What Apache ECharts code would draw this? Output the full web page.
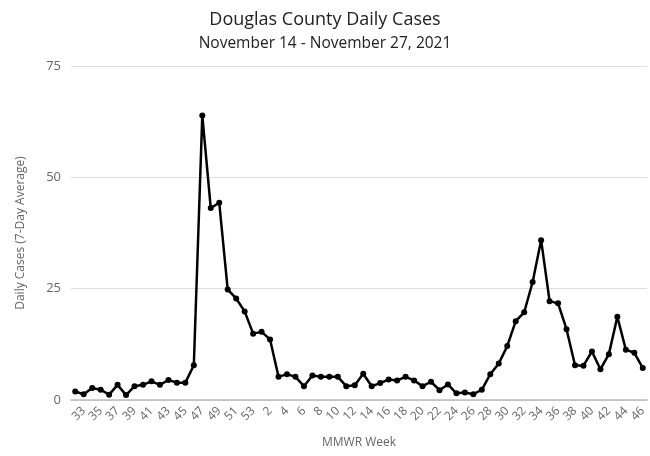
<!DOCTYPE html>
<html>
<head>
<meta charset="utf-8">
<script src="https://cdn.jsdelivr.net/npm/echarts@6/dist/echarts.min.js"></script>
<style>
html,body{margin:0;padding:0;background:#fff;}
#chart{width:650px;height:456px;}
</style>
</head>
<body>
<div id="chart"></div>
<script>
var weeks = [32,33,34,35,36,37,38,39,40,41,42,43,44,45,46,47,48,49,50,51,52,53,
  1,2,3,4,5,6,7,8,9,10,11,12,13,14,15,16,17,18,19,20,21,22,23,24,25,26,27,28,29,30,
  31,32,33,34,35,36,37,38,39,40,41,42,43,44,45,46];
var dailyCases = [1.9,1.3,2.7,2.3,1.2,3.4,1.1,3.1,3.4,4.2,3.4,4.5,3.9,3.9,7.8,63.9,43.1,44.3,24.8,22.8,19.9,14.9,
  15.3,13.6,5.2,5.8,5.2,3.1,5.5,5.2,5.2,5.2,3.1,3.3,5.9,3.1,3.8,4.6,4.4,5.2,4.4,3.1,4.1,2.2,3.5,1.5,1.7,1.3,2.3,5.8,8.2,
  12.1,17.7,19.7,26.5,35.9,22.2,21.7,15.9,7.8,7.7,10.9,6.9,10.3,18.7,11.3,10.6,7.2];
var yTicks = [0,25,50,75];
var titleText = 'Douglas County Daily Cases';
var subtitleText = 'November 14 - November 27, 2021';

var chart = echarts.init(document.getElementById('chart'));
chart.setOption({
  animation:false,
  backgroundColor:'#ffffff',
  title:{
    text:titleText,
    subtext:subtitleText,
    left:'center',
    top:6,
    itemGap:7,
    textStyle:{fontFamily:'Open Sans',fontSize:18,fontWeight:'normal',color:'#222'},
    subtextStyle:{fontFamily:'Open Sans',fontSize:15.5,color:'#222'}
  },
  grid:{left:71,right:3,top:66,bottom:56},
  xAxis:{
    type:'category',
    data:weeks.map(String),
    boundaryGap:true,
    name:'MMWR Week',
    nameLocation:'middle',
    nameGap:37,
    nameTextStyle:{fontFamily:'Open Sans',fontSize:12,color:'#666'},
    axisLine:{lineStyle:{color:'#bbb',width:1.5}},
    axisTick:{show:false},
    axisLabel:{
      interval:function(i){return i%2===1;},
      rotate:45,
      hideOverlap:false,
      showMinLabel:true,
      showMaxLabel:true,
      fontFamily:'Open Sans',fontSize:12,color:'#666',margin:9
    }
  },
  yAxis:{
    type:'value',
    min:0,max:75,interval:25,
    name:'Daily Cases (7-Day Average)',
    nameLocation:'middle',
    nameGap:44,
    nameTextStyle:{fontFamily:'Open Sans',fontSize:12,color:'#666'},
    axisLine:{show:false},
    axisTick:{show:false},
    axisLabel:{fontFamily:'Open Sans',fontSize:13,color:'#666',margin:10},
    splitLine:{lineStyle:{color:'#ddd',width:1}}
  },
  series:[{
    type:'line',
    data:dailyCases,
    symbol:'circle',
    symbolSize:6,
    showAllSymbol:true,
    lineStyle:{color:'#000',width:2.5},
    itemStyle:{color:'#000'}
  }]
});
</script>
</body>
</html>
